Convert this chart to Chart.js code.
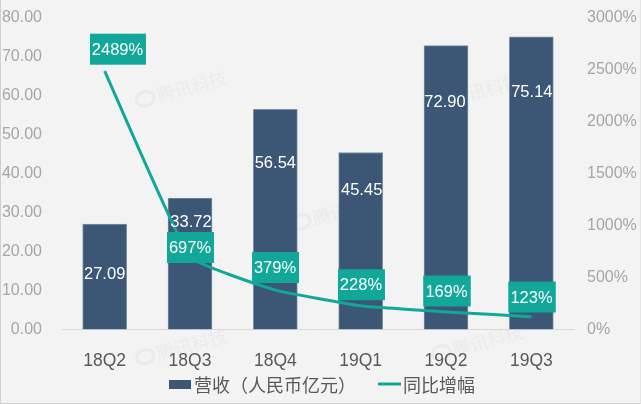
<!DOCTYPE html>
<html>
<head>
<meta charset="utf-8">
<script src="https://cdn.jsdelivr.net/npm/chart.js@4"></script>
<style>
  html, body { margin: 0; padding: 0; background: #f3f3f3; }
  #wrap { position: relative; width: 641px; height: 404px; overflow: hidden; }
  #frame { position: absolute; left: 0; top: 0; width: 639px; height: 403px; border-left: 1px solid #cfcfcf; border-right: 1px solid #e4e4e4; border-bottom: 1px solid #cfcfcf; pointer-events: none; }
  canvas { display: block; }
</style>
</head>
<body>
<div id="wrap">
  <canvas id="chart" width="641" height="404"></canvas>
  <div id="frame"></div>
</div>
<script>
// Datos
const categories = ['18Q2', '18Q3', '18Q4', '19Q1', '19Q2', '19Q3'];
const revenue = [27.09, 33.72, 56.54, 45.45, 72.90, 75.14];
const growth = [2489, 697, 379, 228, 169, 123];
const revenueName = '营收（人民币亿元）';
const growthName = '同比增幅';
const watermarkText = '腾讯科技';

const NAVY = '#3b5775';
const TEAL = '#11a89a';

// Posición de las etiquetas
const revenueLabelY = [274, 222.5, 163.5, 190, 102.5, 92.5];
const revenueLabelDx = [0, 1, 0, 1, -1, 0.5];
const growthBoxDx = [13.3, 0.5, 0.2, 0.8, 1, 0.7];
const growthBoxY = [49.2, 247.5, 267.5, 284.7, 291, 297];
const growthBoxW = [56, 47, 47, 47, 47.5, 47.5];
const watermarks = [[182, 89], [476, 92], [338, 212], [182, 347], [478, 343]];

// Marca de agua debajo de todo
const watermarkPlugin = {
  id: 'watermark',
  beforeDraw(chart) {
    const ctx = chart.ctx;
    watermarks.forEach(w => {
      ctx.save();
      ctx.translate(w[0], w[1]);
      ctx.rotate(-15 * Math.PI / 180);
      ctx.fillStyle = '#eaeaea';
      ctx.strokeStyle = '#eaeaea';
      ctx.font = '18px "Noto Sans CJK SC"';
      ctx.textAlign = 'left';
      ctx.textBaseline = 'middle';
      ctx.fillText(watermarkText, -26, 0);
      ctx.lineWidth = 3;
      ctx.beginPath();
      ctx.ellipse(-38, 0, 9, 7, 0, 0, Math.PI * 2);
      ctx.stroke();
      ctx.restore();
    });
  }
};

// Etiquetas de valores
const labelPlugin = {
  id: 'valueLabels',
  afterDatasetsDraw(chart) {
    const ctx = chart.ctx;
    const x = chart.scales.x;
    ctx.save();
    ctx.font = '16.5px "Liberation Sans"';
    ctx.textAlign = 'center';
    ctx.textBaseline = 'middle';
    categories.forEach((c, i) => {
      const cx = x.getPixelForValue(i);
      ctx.fillStyle = TEAL;
      ctx.fillRect(cx + growthBoxDx[i] - growthBoxW[i] / 2, growthBoxY[i] - 15.5, growthBoxW[i], 31);
      ctx.fillStyle = '#ffffff';
      ctx.fillText(growth[i] + '%', cx + growthBoxDx[i] - 0.5, growthBoxY[i] + 1);
      ctx.fillText(revenue[i].toFixed(2), cx + revenueLabelDx[i], revenueLabelY[i]);
    });
    ctx.restore();
  }
};

// Leyenda
const legendPlugin = {
  id: 'bottomLegend',
  afterDraw(chart) {
    const ctx = chart.ctx;
    ctx.save();
    ctx.fillStyle = NAVY;
    ctx.fillRect(169, 380, 22, 9);
    ctx.strokeStyle = TEAL;
    ctx.lineWidth = 3;
    ctx.beginPath();
    ctx.moveTo(378, 384);
    ctx.lineTo(401, 384);
    ctx.stroke();
    ctx.fillStyle = '#595959';
    ctx.font = '18px "Noto Sans CJK SC"';
    ctx.textBaseline = 'middle';
    ctx.fillText(revenueName, 194, 385);
    ctx.fillText(growthName, 403, 385);
    ctx.restore();
  }
};

// Sin margen extra por media etiqueta en los ejes verticales
function fixVertical(width) {
  return s => {
    s.width = width;
    s.paddingTop = 0;
    s.paddingBottom = 0;
  };
}

new Chart(document.getElementById('chart').getContext('2d'), {
  data: {
    labels: categories,
    datasets: [
      { type: 'line', label: growthName, data: growth, yAxisID: 'y2', borderColor: TEAL, backgroundColor: TEAL, borderWidth: 3, pointRadius: 0, tension: 0.1, order: 1 },
      { type: 'bar', label: revenueName, data: revenue, yAxisID: 'y', backgroundColor: NAVY, borderColor: '#7d90a6', borderWidth: 1, barThickness: 44, order: 2 }
    ]
  },
  options: {
    responsive: false,
    animation: false,
    layout: { padding: { top: 18, left: 0, right: 0, bottom: 0 } },
    plugins: {
      tooltip: { enabled: false },
      legend: { display: false }
    },
    scales: {
      x: {
        afterFit(s) { s.height = 74.5; s.paddingLeft = 0; s.paddingRight = 0; },
        grid: { display: false, drawTicks: false },
        border: { color: '#d9d9d9' },
        ticks: { color: '#595959', padding: 21, maxRotation: 0, font: { size: 17.5, family: '"Liberation Sans"' } }
      },
      y: {
        position: 'left',
        min: 0,
        max: 80,
        afterFit: fixVertical(62),
        grid: { display: false, drawTicks: false },
        border: { display: false },
        ticks: { stepSize: 10, color: '#a6a6a6', padding: 20, font: { size: 16, family: '"Liberation Sans"' }, callback: v => v.toFixed(2) }
      },
      y2: {
        position: 'right',
        min: 0,
        max: 3000,
        afterFit: fixVertical(67),
        grid: { display: false, drawTicks: false },
        border: { display: false },
        ticks: { stepSize: 500, color: '#a6a6a6', padding: 13, font: { size: 16, family: '"Liberation Sans"' }, callback: v => v + '%' }
      }
    }
  },
  plugins: [watermarkPlugin, labelPlugin, legendPlugin]
});
</script>
</body>
</html>
